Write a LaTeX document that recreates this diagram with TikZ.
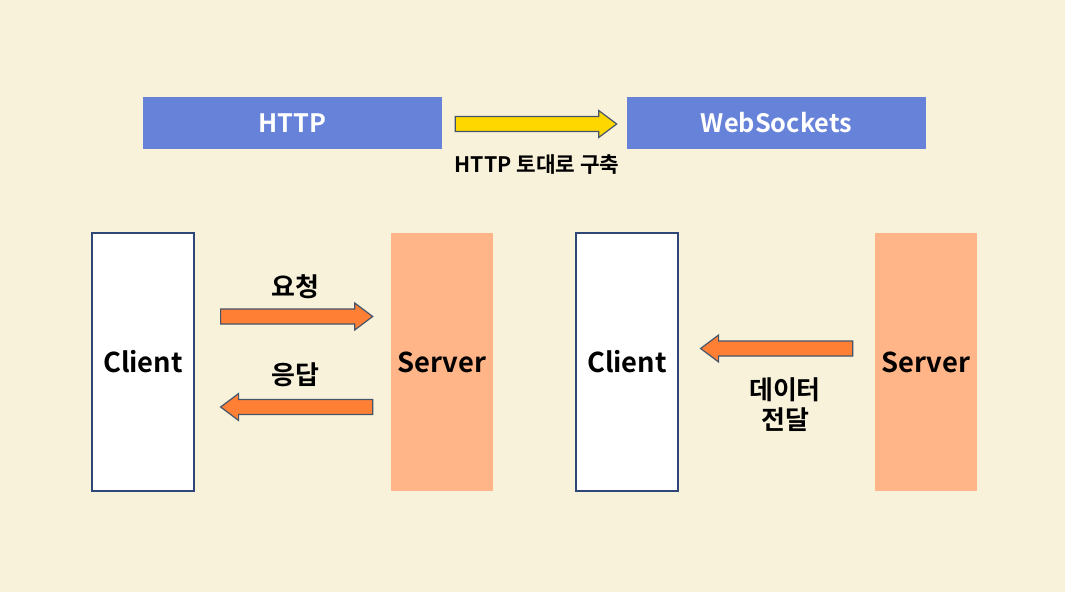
\documentclass[tikz,border=0pt]{standalone}
\usepackage{fontspec}
\setmainfont{Noto Sans CJK KR}[BoldFont={Noto Sans CJK KR Bold}]
\usetikzlibrary{positioning, calc}
\definecolor{WBack}{RGB}{249,242,219}
\definecolor{WBlue}{RGB}{103,131,217}
\definecolor{WPeach}{RGB}{255,181,136}
\definecolor{WOrange}{RGB}{255,128,53}
\definecolor{WGold}{RGB}{255,215,0}
\definecolor{WEdge}{RGB}{68,84,106}
\definecolor{WFrame}{RGB}{47,70,120}

% horizontal block arrow: style, tail, tip, direction (1 right, -1 left)
\newcommand{\blockarrow}[4]{%
  \draw[#1] ($(#2)+(0,-7.5)$) -- ($(#3)+({#4*(-18)},-7.5)$)
    -- ($(#3)+({#4*(-18)},-13.5)$) -- (#3) -- ($(#3)+({#4*(-18)},13.5)$)
    -- ($(#3)+({#4*(-18)},7.5)$) -- ($(#2)+(0,7.5)$) -- cycle;}

\begin{document}
\begin{tikzpicture}[x=0.75pt, y=-0.75pt,
      every node/.style={inner sep=0pt},
      topbox/.style={fill=WBlue, minimum width=224.25pt, minimum height=39pt,
                     text=white, font=\fontsize{19}{22}\selectfont\bfseries},
      endbox/.style={minimum width=76.5pt, minimum height=193.5pt,
                     font=\fontsize{20.5}{24}\selectfont\bfseries},
      client/.style={endbox, draw=WFrame, line width=0.9pt, fill=white},
      server/.style={endbox, fill=WPeach},
      lbl/.style={font=\fontsize{19.5}{22.5}\selectfont\bfseries, align=center},
      blk/.style={draw=WEdge, line width=0.9pt, fill=WOrange, line join=miter},
    ]
      \fill[WBack] (0,0) rectangle (1065,592);
      \useasboundingbox (0,0) rectangle (1065,592);
      % Top row: HTTP -> WebSockets
      \node[topbox] (http) at (292.5,123) {HTTP};
      \node[topbox] (ws) at (776.5,123) {WebSockets};
      \coordinate (up-a) at ($(http.east)+(13,1)$);
      \coordinate (up-b) at ($(ws.west)+(-10,1)$);
      \blockarrow{blk, fill=WGold}{up-a}{up-b}{1}
      \node[font=\fontsize{16}{18}\selectfont\bfseries] (base) at (537,165) {HTTP 토대로 구축};
      % Left: request / response
      \node[client] (c1) at (143,362) {Client};
      \node[server] (s1) at (442,362) {Server};
      \coordinate (req-a) at ($(c1.east)+(26,-45.5)$);
      \coordinate (req-b) at ($(s1.west)+(-18,-45.5)$);
      \coordinate (res-a) at ($(s1.west)+(-18,45)$);
      \coordinate (res-b) at ($(c1.east)+(26,45)$);
      \blockarrow{blk}{req-a}{req-b}{1}
      \blockarrow{blk}{res-a}{res-b}{-1}
      \node[lbl] (req) at (295,287) {요청};
      \node[lbl] (res) at (295,375) {응답};
      % Right: server push
      \node[client] (c2) at (627,362) {Client};
      \node[server] (s2) at (926,362) {Server};
      \coordinate (push-a) at ($(s2.west)+(-22,-13.5)$);
      \coordinate (push-b) at ($(c2.east)+(22,-13.5)$);
      \blockarrow{blk}{push-a}{push-b}{-1}
      \node[lbl] (push) at (785,405) {데이터\\전달};
    \end{tikzpicture}
\end{document}
